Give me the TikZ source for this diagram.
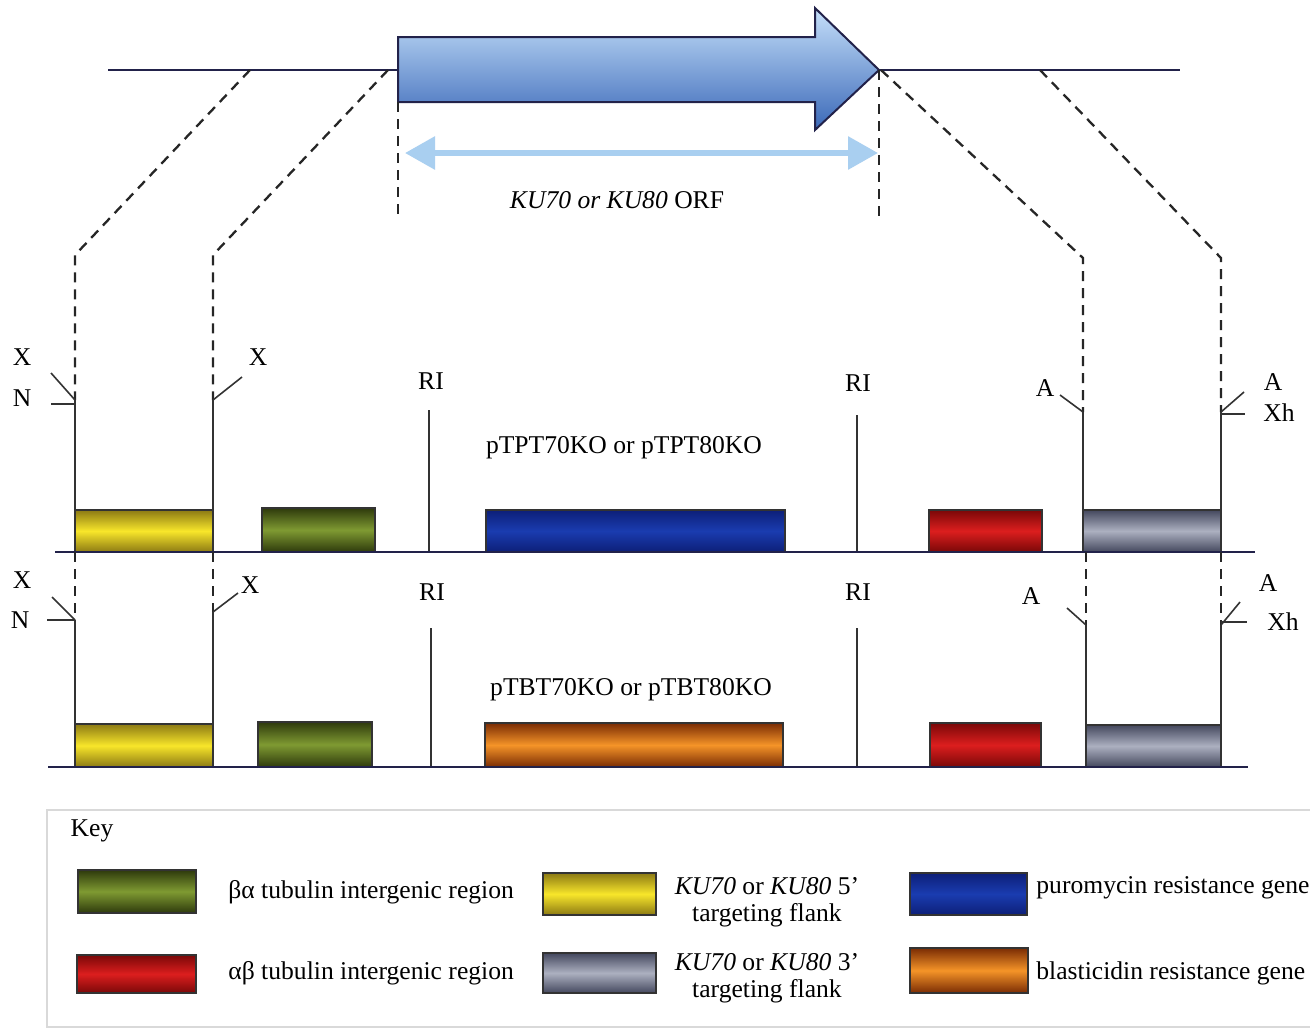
\documentclass[tikz,border=0pt]{standalone}
\usepackage{fontspec}
\setmainfont{Liberation Serif}
\usetikzlibrary{arrows.meta}
\definecolor{linecol}{HTML}{22224A}
\definecolor{yelD}{HTML}{8C7A14}
\definecolor{yelL}{HTML}{F8E62A}
\definecolor{grnD}{HTML}{2E3A0C}
\definecolor{grnL}{HTML}{7F9A32}
\definecolor{bluD}{HTML}{0D1F78}
\definecolor{bluL}{HTML}{1A3CB0}
\definecolor{redD}{HTML}{7A0808}
\definecolor{redL}{HTML}{DC1E1E}
\definecolor{gryD}{HTML}{44485E}
\definecolor{gryL}{HTML}{ACB0C0}
\definecolor{orgD}{HTML}{7A2C04}
\definecolor{orgL}{HTML}{F59428}
\definecolor{arrL}{HTML}{C6E0FA}
\definecolor{arrD}{HTML}{3A68B8}
\definecolor{orfcol}{HTML}{A9CFF0}
\begin{document}
\begin{tikzpicture}[x=0.5pt,y=-0.5pt,
  font=\fontsize{12.8}{15.4}\selectfont,
  dna/.style={draw=linecol, line width=1pt},
  dashln/.style={draw=black!85, line width=1.15pt, dash pattern=on 5pt off 3.5pt},
  siteln/.style={draw=black!80, line width=0.8pt},
  gbox/.style={draw=black!80, line width=0.6pt},
  yel/.style={gbox, top color=yelD, bottom color=yelD, middle color=yelL},
  grn/.style={gbox, top color=grnD, bottom color=grnD, middle color=grnL},
  blu/.style={gbox, top color=bluD, bottom color=bluD, middle color=bluL},
  redb/.style={gbox, top color=redD, bottom color=redD, middle color=redL},
  gry/.style={gbox, top color=gryD, bottom color=gryD, middle color=gryL},
  org/.style={gbox, top color=orgD, bottom color=orgD, middle color=orgL},
  lbl/.style={inner sep=0pt}]
\useasboundingbox (0,0) rectangle (1310,1030);
\fill[white] (0,0) rectangle (1310,1030);

% ---------- coordinates ----------
\coordinate (tl) at (108,70);   \coordinate (tr) at (1180,70);
\coordinate (d1a) at (250,70);  \coordinate (d1b) at (75,255);   \coordinate (j1) at (75,400);
\coordinate (d2a) at (388,70);  \coordinate (d2b) at (213,255);  \coordinate (j2) at (213,400);
\coordinate (d3a) at (881,70);  \coordinate (d3b) at (1083,258); \coordinate (j3) at (1083,412);
\coordinate (d4a) at (1040,70); \coordinate (d4b) at (1221,258); \coordinate (j4) at (1221,412);
\coordinate (b1l) at (55,552);  \coordinate (b1r) at (1255,552);
\coordinate (b2l) at (48,767);  \coordinate (b2r) at (1248,767);
\coordinate (k1) at (75,620);   \coordinate (k2) at (213,612);
\coordinate (k3) at (1086,625); \coordinate (k4) at (1221,625);

% ---------- genomic locus ----------
\draw[dna] (tl) -- (tr);
\shade[top color=arrL, bottom color=arrD, draw=linecol, line width=1pt]
  (398,37) -- (815,37) -- (815,8) -- (879,70) -- (815,130) -- (815,102) -- (398,102) -- cycle;
\coordinate (orfL) at (398,102); \coordinate (orfR) at (879,70);
\draw[dashln] (orfL) -- (398,215);
\draw[dashln] (orfR) -- (879,218);
\draw[draw=orfcol, line width=3pt, {Triangle[length=15pt,width=16pt]}-{Triangle[length=15pt,width=16pt]}] (405,153) -- (878,153);
\node[lbl] (orf) at (617,200) {\textit{KU70 or KU80} ORF};

% dashed homology lines
\draw[dashln] (d1a) -- (d1b) -- (j1);
\draw[dashln] (d2a) -- (d2b) -- (j2);
\draw[dashln] (d3a) -- (d3b) -- (j3);
\draw[dashln] (d4a) -- (d4b) -- (j4);

% ---------- construct 1 ----------
\draw[siteln] (j1) -- (75,552);
\draw[siteln] (j2) -- (213,552);
\draw[siteln] (j3) -- (1083,552);
\draw[siteln] (j4) -- (1221,552);
\draw[siteln] (j1) -- (51,373);  \draw[siteln] (51,404) -- (75,404);
\draw[siteln] (j2) -- (242,377);
\draw[siteln] (j3) -- (1060,395);
\draw[siteln] (j4) -- (1244,392); \draw[siteln] (1221,414) -- (1245,414);
\draw[siteln] (429,410) -- (429,552);
\draw[siteln] (857,415) -- (857,552);

\shade[yel] (75,510) rectangle (213,552);
\shade[grn] (262,508) rectangle (375,552);
\shade[blu] (486,510) rectangle (785,552);
\shade[redb] (929,510) rectangle (1042,552);
\shade[gry] (1083,510) rectangle (1221,552);
\draw[dna] (b1l) -- (b1r);

\node[lbl] (x1) at (22,357) {X};
\node[lbl] (n1) at (22,398) {N};
\node[lbl] (x2) at (258,357) {X};
\node[lbl] (ri1) at (431,381) {RI};
\node[lbl] (ri2) at (858,383) {RI};
\node[lbl] (p1) at (624,448) {pTPT70KO or pTPT80KO};
\node[lbl] (a1) at (1045,388) {A};
\node[lbl] (a2) at (1273,382) {A};
\node[lbl] (xh1) at (1279,413) {Xh};

% ---------- construct 2 ----------
\draw[dashln] (75,552) -- (k1);
\draw[dashln] (213,552) -- (k2);
\draw[dashln] (1086,552) -- (k3);
\draw[dashln] (1221,552) -- (k4);
\draw[siteln] (k1) -- (75,767);
\draw[siteln] (k2) -- (213,767);
\draw[siteln] (k3) -- (1086,767);
\draw[siteln] (k4) -- (1221,767);
\draw[siteln] (k1) -- (52,597);  \draw[siteln] (47,620) -- (75,620);
\draw[siteln] (k2) -- (238,593);
\draw[siteln] (k3) -- (1067,608);
\draw[siteln] (k4) -- (1240,602); \draw[siteln] (1221,622) -- (1247,622);
\draw[siteln] (431,628) -- (431,767);
\draw[siteln] (857,628) -- (857,767);

\shade[yel] (75,724) rectangle (213,767);
\shade[grn] (258,722) rectangle (372,767);
\shade[org] (485,723) rectangle (783,767);
\shade[redb] (930,723) rectangle (1041,767);
\shade[gry] (1086,725) rectangle (1221,767);
\draw[dna] (b2l) -- (b2r);

\node[lbl] (x3) at (22,580) {X};
\node[lbl] (n2) at (20,620) {N};
\node[lbl] (x4) at (250,585) {X};
\node[lbl] (ri3) at (432,592) {RI};
\node[lbl] (ri4) at (858,592) {RI};
\node[lbl] (p2) at (631,690) {pTBT70KO or pTBT80KO};
\node[lbl] (a3) at (1031,596) {A};
\node[lbl] (a4) at (1268,583) {A};
\node[lbl] (xh2) at (1283,622) {Xh};

% ---------- key ----------
\draw[draw=black!15, line width=0.8pt] (47,810) rectangle (1340,1027);
\node[lbl] (key) at (92,831) {Key};
\shade[grn] (78,870) rectangle (196,913);
\shade[redb] (77,955) rectangle (196,993);
\shade[yel] (543,873) rectangle (656,915);
\shade[gry] (543,953) rectangle (656,993);
\shade[blu] (910,873) rectangle (1027,915);
\shade[org] (910,948) rectangle (1028,993);
\node[lbl, anchor=west] (k_ba) at (228,892) {βα tubulin intergenic region};
\node[lbl, anchor=west] (k_ab) at (228,973) {αβ tubulin intergenic region};
\node[lbl, align=center] (k_5) at (767,902) {\textit{KU70} or \textit{KU80} 5'\\[-2pt]targeting flank};
\node[lbl, align=center] (k_3) at (767,978) {\textit{KU70} or \textit{KU80} 3'\\[-2pt]targeting flank};
\node[lbl, anchor=west] (k_pur) at (1036,888) {puromycin resistance gene};
\node[lbl, anchor=west] (k_bla) at (1036,973) {blasticidin resistance gene};
\end{tikzpicture}
\end{document}
